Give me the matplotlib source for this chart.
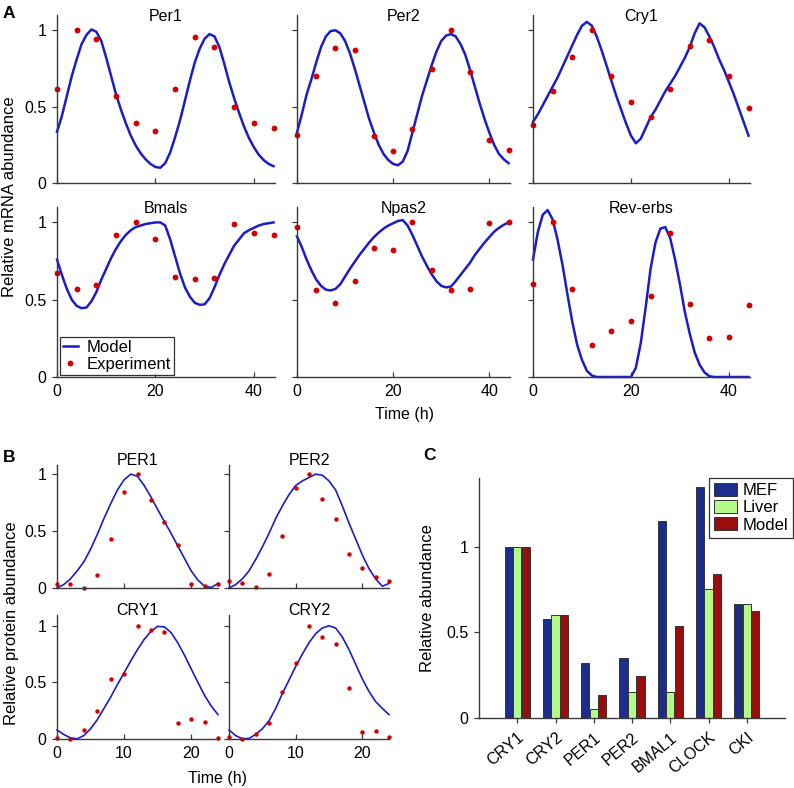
import matplotlib
matplotlib.use('Agg')
import matplotlib.pyplot as plt
from matplotlib.lines import Line2D
from matplotlib.patches import Patch

plt.rcParams['font.family'] = ['Liberation Sans', 'DejaVu Sans']

# ---------------- Panel A: mRNA ----------------
mrna_exp_time = [0, 4, 8, 12, 16, 20, 24, 28, 32, 36, 40, 44]
mrna_model_time = list(range(45))

per1_exp = [0.617, 1.0, 0.946, 0.569, 0.39, 0.338, 0.615, 0.959, 0.892, 0.5, 0.39, 0.361]
per2_exp = [0.312, 0.703, 0.884, 0.873, 0.308, 0.211, 0.356, 0.747, 1.0, 0.725, 0.281, 0.213]
cry1_exp = [0.377, 0.604, 0.823, 1.0, 0.70, 0.528, 0.435, 0.613, 0.894, 0.935, 0.703, 0.489]
bmals_exp = [0.67, 0.57, 0.594, 0.918, 1.0, 0.896, 0.644, 0.631, 0.641, 0.989, 0.929, 0.918]
npas2_exp = [0.97, 0.56, 0.477, 0.622, 0.836, 0.825, 1.0, 0.695, 0.564, 0.572, 0.994, 1.0]
reverbs_exp = [0.60, 1.0, 0.568, 0.21, 0.296, 0.365, 0.523, 0.935, 0.475, 0.253, 0.257, 0.467]

per1_model = [0.335, 0.44, 0.57, 0.70, 0.81, 0.91, 0.97, 1.005, 0.99, 0.93, 0.82, 0.70, 0.58,
              0.48, 0.39, 0.31, 0.245, 0.195, 0.155, 0.125, 0.105, 0.10, 0.13, 0.20, 0.30,
              0.41, 0.54, 0.67, 0.79, 0.88, 0.945, 0.975, 0.96, 0.89, 0.78, 0.66, 0.555,
              0.46, 0.37, 0.295, 0.235, 0.185, 0.15, 0.125, 0.11]
per2_model = [0.33, 0.45, 0.58, 0.68, 0.79, 0.89, 0.96, 0.995, 1.0, 0.98, 0.93, 0.85, 0.75,
              0.64, 0.53, 0.42, 0.33, 0.25, 0.19, 0.15, 0.125, 0.116, 0.14, 0.21, 0.33,
              0.45, 0.57, 0.67, 0.77, 0.86, 0.93, 0.965, 0.975, 0.96, 0.91, 0.84, 0.74,
              0.63, 0.52, 0.42, 0.33, 0.25, 0.19, 0.155, 0.13]
cry1_model = [0.40, 0.45, 0.51, 0.57, 0.63, 0.69, 0.76, 0.83, 0.90, 0.97, 1.03, 1.055, 1.03,
              0.96, 0.87, 0.77, 0.67, 0.57, 0.48, 0.39, 0.31, 0.26, 0.29, 0.36, 0.43,
              0.48, 0.54, 0.60, 0.65, 0.70, 0.76, 0.82, 0.89, 0.98, 1.045, 1.02, 0.96,
              0.89, 0.81, 0.74, 0.66, 0.58, 0.49, 0.40, 0.31]
bmals_model = [0.76, 0.66, 0.57, 0.50, 0.46, 0.445, 0.45, 0.49, 0.55, 0.63, 0.70, 0.77, 0.83,
               0.88, 0.92, 0.95, 0.97, 0.98, 0.99, 0.995, 1.0, 1.0, 0.98, 0.89, 0.78,
               0.67, 0.58, 0.52, 0.48, 0.467, 0.47, 0.51, 0.58, 0.66, 0.73, 0.79, 0.85,
               0.89, 0.93, 0.95, 0.965, 0.98, 0.99, 0.995, 1.0]
npas2_model = [0.91, 0.84, 0.76, 0.69, 0.63, 0.59, 0.565, 0.56, 0.57, 0.60, 0.65, 0.70, 0.745,
               0.79, 0.83, 0.87, 0.905, 0.935, 0.96, 0.98, 0.995, 1.01, 1.015, 0.98, 0.92,
               0.85, 0.78, 0.72, 0.665, 0.62, 0.59, 0.58, 0.585, 0.62, 0.66, 0.70, 0.74,
               0.79, 0.83, 0.87, 0.905, 0.94, 0.965, 0.985, 1.0]
reverbs_model = [0.76, 0.94, 1.05, 1.08, 1.02, 0.89, 0.73, 0.54, 0.36, 0.21, 0.11, 0.04, 0.01,
                 0.0, 0.0, 0.0, 0.0, 0.0, 0.0, 0.0, 0.0, 0.06, 0.22, 0.45, 0.70,
                 0.87, 0.96, 0.97, 0.90, 0.76, 0.60, 0.42, 0.28, 0.16, 0.08, 0.03, 0.005,
                 0.0, 0.0, 0.0, 0.0, 0.0, 0.0, 0.0, 0.0]

mrna_titles = ['Per1', 'Per2', 'Cry1', 'Bmals', 'Npas2', 'Rev-erbs']

# ---------------- Panel B: protein ----------------
prot_exp_time = [0, 2, 4, 6, 8, 10, 12, 14, 16, 18, 20, 22, 24]
prot_model_time = list(range(25))

per1_pexp = [0.038, 0.035, 0.0, 0.117, 0.433, 0.839, 1.0, 0.775, 0.582, 0.374, 0.038, 0.015, 0.035]
per2_pexp = [0.06, 0.04, 0.005, 0.12, 0.46, 0.876, 1.0, 0.78, 0.605, 0.295, 0.18, 0.10, 0.06]
cry1_pexp = [0.01, 0.0, 0.08, 0.25, 0.53, 0.575, 1.0, 0.96, 0.944, 0.144, 0.18, 0.15, 0.01]
cry2_pexp = [0.02, 0.0, 0.045, 0.14, 0.413, 0.668, 1.0, 0.903, 0.836, 0.45, 0.06, 0.075, 0.02]

per1_pmodel = [0.0, 0.03, 0.08, 0.15, 0.23, 0.34, 0.47, 0.61, 0.74, 0.86, 0.95, 1.0, 0.98,
               0.90, 0.80, 0.69, 0.585, 0.48, 0.37, 0.26, 0.15, 0.07, 0.015, 0.005, 0.04]
per2_pmodel = [0.0, 0.03, 0.08, 0.15, 0.25, 0.36, 0.48, 0.61, 0.72, 0.82, 0.90, 0.94, 0.97,
               1.0, 0.99, 0.94, 0.86, 0.72, 0.57, 0.43, 0.29, 0.17, 0.08, 0.015, 0.04]
cry1_pmodel = [0.08, 0.04, 0.01, 0.002, 0.03, 0.09, 0.17, 0.27, 0.37, 0.48, 0.585, 0.69, 0.79,
               0.88, 0.95, 0.995, 0.99, 0.94, 0.85, 0.74, 0.62, 0.50, 0.385, 0.29, 0.215]
cry2_pmodel = [0.08, 0.03, 0.002, 0.005, 0.04, 0.09, 0.16, 0.27, 0.40, 0.52, 0.64, 0.75, 0.85,
               0.93, 0.98, 1.0, 0.98, 0.90, 0.79, 0.66, 0.53, 0.42, 0.33, 0.27, 0.215]

prot_titles = ['PER1', 'PER2', 'CRY1', 'CRY2']

# ---------------- Panel C: abundance ----------------
genes = ['CRY1', 'CRY2', 'PER1', 'PER2', 'BMAL1', 'CLOCK', 'CKI']
mef = [1.0, 0.58, 0.32, 0.35, 1.15, 1.35, 0.665]
liver = [1.0, 0.60, 0.05, 0.15, 0.15, 0.75, 0.665]
model = [1.0, 0.60, 0.134, 0.247, 0.534, 0.841, 0.623]

# ---------------- Styling ----------------
W, H = 794, 788
fig = plt.figure(figsize=(W / 100, H / 100), dpi=100)

LINE_C = '#1c1cc8'
DOT_C = '#d40000'
SPINE_C = '#3a3a3a'
FS = 11.5
LFS = 12


def add_ax(l, t, r, b):
    return fig.add_axes([l / W, 1 - b / H, (r - l) / W, (b - t) / H])


def style(ax):
    for s in ['top', 'right']:
        ax.spines[s].set_visible(False)
    for s in ['left', 'bottom']:
        ax.spines[s].set_color(SPINE_C)
        ax.spines[s].set_linewidth(1.0)
    ax.tick_params(axis='y', direction='out', length=3.5, width=0.9, color=SPINE_C,
                   labelsize=FS, pad=4)
    ax.tick_params(axis='x', direction='in', length=3.5, width=0.9, color=SPINE_C,
                   labelsize=FS, pad=5)


# Panel A
colsA = [(57, 275), (297, 510), (533, 750)]
rowsA = [(15, 183), (207, 377)]
mrna_exp = [per1_exp, per2_exp, cry1_exp, bmals_exp, npas2_exp, reverbs_exp]
mrna_model = [per1_model, per2_model, cry1_model, bmals_model, npas2_model, reverbs_model]
for i in range(6):
    r, c = divmod(i, 3)
    ax = add_ax(colsA[c][0], rowsA[r][0], colsA[c][1], rowsA[r][1])
    style(ax)
    ln, = ax.plot(mrna_model_time, mrna_model[i], color=LINE_C, lw=1.8, clip_on=False)
    dt, = ax.plot(mrna_exp_time, mrna_exp[i], 'o', color=DOT_C, ms=4.2, mew=0,
                  clip_on=False, linestyle='none')
    ax.set_xlim(0, 44.3)
    ax.set_ylim(0, 1.1)
    ax.set_xticks([0, 20, 40])
    ax.set_yticks([0, 0.5, 1])
    ax.set_yticklabels(['0', '0.5', '1'])
    if r == 0:
        ax.set_xticklabels([])
    if c != 0:
        ax.set_yticklabels([])
    ax.text(0.5, 0.965, mrna_titles[i], transform=ax.transAxes, ha='center',
            va='baseline', fontsize=FS)
    if i == 3:
        leg = ax.legend([ln, dt], ['Model', 'Experiment'], loc='lower left',
                        bbox_to_anchor=(0.012, 0.012), fontsize=LFS, frameon=True,
                        fancybox=False, edgecolor='black', handlelength=0.9,
                        handletextpad=0.5, borderpad=0.2, labelspacing=0.1,
                        borderaxespad=0)
        leg.get_frame().set_linewidth(0.9)

fig.text(10 / W, 1 - 197 / H, 'Relative mRNA abundance', rotation=90, ha='center',
         va='center', fontsize=LFS)
fig.text(404 / W, 1 - 414 / H, 'Time (h)', ha='center', va='center', fontsize=FS)
fig.text(3 / W, 1 - 13 / H, 'A', fontsize=12.5, fontweight='bold', va='center', ha='left')

# Panel B
colsB = [(57, 218), (229, 389)]
rowsB = [(465, 588, 1.08), (615, 739, 1.095)]
prot_exp = [per1_pexp, per2_pexp, cry1_pexp, cry2_pexp]
prot_model = [per1_pmodel, per2_pmodel, cry1_pmodel, cry2_pmodel]
for i in range(4):
    r, c = divmod(i, 2)
    ax = add_ax(colsB[c][0], rowsB[r][0], colsB[c][1], rowsB[r][1])
    style(ax)
    ax.plot(prot_model_time, prot_model[i], color=LINE_C, lw=1.2, clip_on=False)
    ax.plot(prot_exp_time, prot_exp[i], 'o', color=DOT_C, ms=3.2, mew=0,
            clip_on=False, linestyle='none')
    ax.set_xlim(0, 24)
    ax.set_ylim(0, rowsB[r][2])
    ax.set_xticks([0, 10, 20])
    ax.set_yticks([0, 0.5, 1])
    ax.set_yticklabels(['0', '0.5', '1'])
    if r == 0:
        ax.set_xticklabels([])
    if c != 0:
        ax.set_yticklabels([])
    ax.text(0.5, 1.0, prot_titles[i], transform=ax.transAxes, ha='center',
            va='baseline', fontsize=FS)

fig.text(12 / W, 1 - 623 / H, 'Relative protein abundance', rotation=90, ha='center',
         va='center', fontsize=LFS)
fig.text(218 / W, 1 - 778 / H, 'Time (h)', ha='center', va='center', fontsize=FS)
fig.text(3 / W, 1 - 457 / H, 'B', fontsize=12.5, fontweight='bold', va='center', ha='left')

# Panel C
axc = add_ax(479, 478, 785, 718)
for s in ['top', 'right']:
    axc.spines[s].set_visible(False)
for s in ['left', 'bottom']:
    axc.spines[s].set_color(SPINE_C)
    axc.spines[s].set_linewidth(1.0)
axc.tick_params(axis='both', direction='out', length=3.5, width=0.9, color=SPINE_C,
                labelsize=FS, pad=4)
pos = list(range(1, len(genes) + 1))
bw = 0.215
ec = '#333333'
b1 = axc.bar([p - 0.222 for p in pos], mef, width=bw, color='#1c2d8e', edgecolor=ec, lw=0.7)
b2 = axc.bar(pos, liver, width=bw, color='#b4fa88', edgecolor=ec, lw=0.7)
b3 = axc.bar([p + 0.222 for p in pos], model, width=bw, color='#9a0d0d', edgecolor=ec, lw=0.7)
axc.set_xlim(0, 8)
axc.set_ylim(0, 1.4)
axc.set_yticks([0, 0.5, 1])
axc.set_yticklabels(['0', '0.5', '1'])
axc.set_xticks(pos)
axc.set_xticklabels(genes, rotation=40, ha='right', va='top', rotation_mode='anchor')
axc.tick_params(axis='x', pad=5)
axc.set_ylabel('Relative abundance', fontsize=LFS, labelpad=8)
legc = fig.legend([b1, b2, b3], ['MEF', 'Liver', 'Model'], loc='upper right',
                  bbox_to_anchor=(793 / W, 1 - 478 / H), fontsize=LFS, frameon=True,
                  fancybox=False, edgecolor='black', handlelength=1.4, handleheight=0.85,
                  handletextpad=0.3, borderpad=0.3, labelspacing=0.1, borderaxespad=0)
legc.get_frame().set_linewidth(0.9)
fig.text(423 / W, 1 - 456 / H, 'C', fontsize=12.5, fontweight='bold', va='center', ha='left')

fig.savefig('out.png', dpi=100)
